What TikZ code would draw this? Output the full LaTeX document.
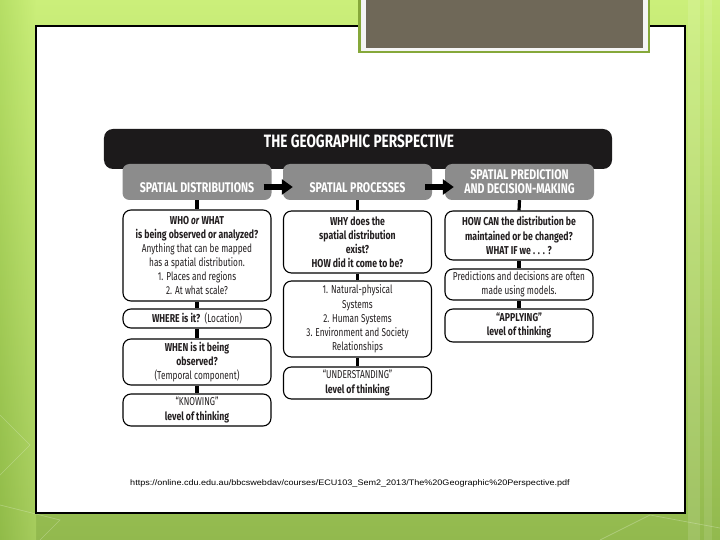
\documentclass[tikz,border=0pt]{standalone}
\usepackage{fontspec}
\usepackage{graphicx}
\setmainfont{Fira Sans}[FakeStretch=0.72, BoldFeatures={FakeStretch=0.76}]
\newfontfamily\urlfont{Liberation Sans}
\usetikzlibrary{arrows.meta}
\definecolor{bgtop}{HTML}{CBEF7A}
\definecolor{bgbot}{HTML}{92B94E}
\definecolor{bgleft}{HTML}{8FC040}
\definecolor{frgreen}{HTML}{86A83A}
\definecolor{taupe}{HTML}{6F6858}
\definecolor{hdrblack}{HTML}{1C1A1B}
\definecolor{boxgray}{HTML}{8C8C8C}
\definecolor{txt}{HTML}{231F20}
\tikzset{
  hdr/.style={fill=hdrblack, rounded corners=9bp, minimum width=508bp, minimum height=40bp, inner sep=0pt},
  gbox/.style={fill=boxgray, rounded corners=7bp, minimum width=149bp, minimum height=36bp, inner sep=0pt,
     text=white, align=center, font=\bfseries\fontsize{14}{13.8}\selectfont},
  gtext/.style={text=white, inner sep=0pt, font=\bfseries\fontsize{14}{13.8}\selectfont},
  wbox/.style={draw=black, line width=1.1bp, fill=white, rounded corners=8bp, align=center,
     text=txt, inner sep=0pt, minimum width=148bp, font=\fontsize{11.5}{14.2}\selectfont},
  conn/.style={line width=3.2bp, draw=black},
  barrow/.style={line width=5.5bp, draw=black, -{Triangle[length=11bp,width=15bp]}},
}
\begin{document}
\begin{tikzpicture}[x=1bp,y=-1bp]
\useasboundingbox (0,0) rectangle (720,540);
% background
\shade[top color=bgtop, bottom color=bgbot] (0,0) rectangle (720,540);
\shade[left color=bgleft, right color=bgtop, opacity=0.35] (0,0) rectangle (36,540);
\fill[white, opacity=0.12] (688,0) rectangle (700,540);
\fill[white, opacity=0.10] (704,0) rectangle (712,540);
\draw[white, opacity=0.25, line width=0.7bp] (0,415) -- (30,445) -- (0,475);
\draw[white, opacity=0.25, line width=0.7bp] (0,505) -- (60,520) -- (40,540);
\draw[white, opacity=0.25, line width=0.7bp] (600,540) -- (650,515) -- (720,528);
% panel
\fill[white] (36,26) rectangle (685,513);
\draw[black, line width=1.5bp] (36,26) rectangle (685,513);
% taupe title box
\fill[frgreen] (358,-5) rectangle (650,53);
\fill[white!96!black] (360.5,-5) rectangle (647.5,50.8);
\fill[taupe] (366,-5) rectangle (643,48);

% header
\node[hdr] (hd) at (358,149) {};
\node[text=white, inner sep=0pt, font=\bfseries\fontsize{18}{20}\selectfont] (title) at (359,141) {THE GEOGRAPHIC PERSPECTIVE};

% gray boxes
\node[gbox] (g1) at (197,182) {};
\node[gbox] (g2) at (357.5,182) {};
\node[gbox] (g3) at (519.5,182) {SPATIAL PREDICTION\\AND DECISION-MAKING};
\node[gtext] (t1) at ([yshift=-5.5bp]g1.center) {SPATIAL DISTRIBUTIONS};
\node[gtext] (t2) at ([yshift=-5.5bp]g2.center) {SPATIAL PROCESSES};

% arrows
\draw[barrow] ([xshift=-8bp,yshift=-5bp]g1.east) -- ([xshift=10bp,yshift=-5bp]g2.west);
\draw[barrow] ([xshift=-7bp,yshift=-5bp]g2.east) -- ([xshift=9bp,yshift=-5bp]g3.west);

% white boxes column 1
\node[wbox, minimum height=91bp] (a) at (197,255.5) {\textbf{WHO \textit{or} WHAT}\\\textbf{is being observed or analyzed?}\\Anything that can be mapped\\has a spatial distribution.\\1. Places and regions\\2. At what scale?};
\node[wbox, minimum height=19bp] (b) at (197,318.5) {\textbf{WHERE is it?}\ \ (Location)};
\node[wbox, minimum height=46bp] (c) at (197,362) {\textbf{WHEN is it being}\\\textbf{observed?}\\(Temporal component)};
\node[wbox, minimum height=32bp] (d) at (197,410) {“KNOWING”\\\textbf{level of thinking}};
% column 2
\node[wbox, minimum height=62bp] (e) at (357.5,242) {\textbf{WHY does the}\\\textbf{spatial distribution}\\\textbf{exist?}\\\textbf{HOW did it come to be?}};
\node[wbox, minimum height=76bp] (f) at (357.5,319) {1. Natural-physical\\Systems\\2. Human Systems\\3. Environment and Society\\Relationships};
\node[wbox, minimum height=32bp] (g) at (357.5,383) {“UNDERSTANDING”\\\textbf{level of thinking}};
% column 3
\node[wbox, minimum height=49bp] (h) at (519,235.5) {\textbf{HOW CAN the distribution be}\\\textbf{maintained or be changed?}\\\textbf{WHAT IF we . . . ?}};
\node[wbox, minimum height=31bp] (i) at (519,284.5) {Predictions and decisions are often\\made using models.};
\node[wbox, minimum height=33bp] (j) at (519,325.5) {\textbf{“APPLYING”}\\\textbf{level of thinking}};

% connectors
\draw[conn] (g1.south) -- (a.north);
\draw[conn] (a.south) -- (b.north);
\draw[conn] (b.south) -- (c.north);
\draw[conn] (c.south) -- (d.north);
\draw[conn] (g2.south) -- (e.north);
\draw[conn] (e.south) -- (f.north);
\draw[conn] (f.south) -- (g.north);
\draw[conn] (g3.south) -- (h.north);
\draw[conn] (h.south) -- (i.north);
\draw[conn] (i.south) -- (j.north);

% source
\node[inner sep=0pt, text=black, font=\urlfont\fontsize{8}{9}\selectfont] (src) at (350,483) {\scalebox{1.135}[1]{https://online.cdu.edu.au/bbcswebdav/courses/ECU103\_Sem2\_2013/The\%20Geographic\%20Perspective.pdf}};
\end{tikzpicture}
\end{document}
